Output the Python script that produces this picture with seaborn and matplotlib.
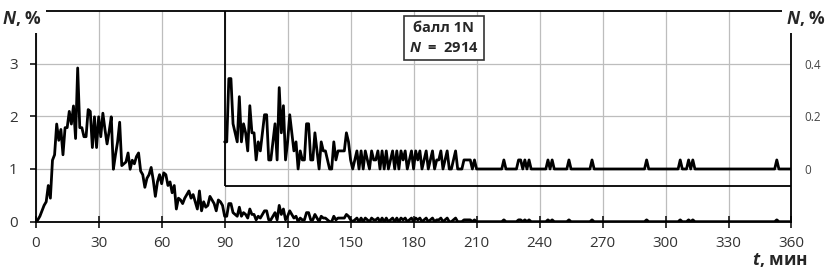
import numpy as np
import pandas as pd
import matplotlib
matplotlib.use("Agg")
import matplotlib.pyplot as plt
import seaborn as sns

# ——————————————
# events per minute (N = 2914 total)
N_total = 2914

events_0_89 = [0, 1, 3, 6, 9, 11, 20, 13, 34, 37,
               54, 45, 51, 37, 52, 52, 61, 54, 64, 46,
               85, 52, 52, 47, 47, 62, 61, 41, 58, 41,
               58, 47, 60, 51, 43, 50, 58, 29, 37, 44,
               55, 31, 32, 33, 38, 29, 34, 32, 36, 38,
               28, 26, 19, 24, 26, 30, 23, 14, 22, 26,
               21, 27, 26, 20, 22, 16, 20, 7, 13, 12,
               10, 13, 15, 17, 13, 15, 11, 7, 17, 6,
               11, 8, 9, 14, 12, 10, 6, 12, 11, 9]

events_90_149 = [3, 3, 10, 10, 5, 4, 3, 8, 3, 5,
                 4, 2, 7, 4, 4, 1, 3, 2, 4, 6,
                 6, 1, 1, 3, 5, 1, 9, 4, 7, 1,
                 3, 6, 4, 2, 3, 0, 2, 1, 1, 5,
                 5, 1, 1, 4, 2, 0, 3, 2, 2, 1,
                 0, 0, 3, 1, 2, 2, 2, 2, 4, 3]

events_150_209 = [1, 0, 1, 2, 0, 2, 0, 2, 1, 0,
                  2, 1, 1, 2, 0, 2, 0, 2, 0, 1,
                  2, 0, 2, 0, 2, 1, 2, 0, 1, 2,
                  0, 2, 1, 2, 0, 1, 2, 0, 1, 2,
                  0, 1, 1, 2, 0, 1, 2, 0, 0, 1,
                  2, 0, 0, 0, 1, 1, 1, 1, 0, 1]

# single events after 210 min
tail_minutes = [223, 230, 231, 233, 235, 244, 246, 254, 265, 291, 307, 311, 313, 353]
tail_events = [1] * len(tail_minutes)

x_ticks = list(range(0, 361, 30))
y_ticks = [0, 1, 2, 3]
inset_ticks = [0, 0.2, 0.4]
inset_tick_labels = ["0", "0.2", "0.4"]

inset_start = 90      # magnified part starts here, min
inset_floor = 0.68    # bottom edge of the magnified frame (left-axis units)

# ——————————————
minutes = np.arange(0, 361)
events = np.zeros(len(minutes), dtype=int)
events[0:90] = events_0_89
events[90:150] = events_90_149
events[150:210] = events_150_209
events[tail_minutes] = tail_events

df = pd.DataFrame({"t": minutes, "N": events / N_total * 100})
inset = df[df["t"] >= inset_start]

font = "Open Sans"
sns.set_style("ticks")
plt.rcParams["font.family"] = [font, "DejaVu Sans"]
plt.rcParams["mathtext.fontset"] = "custom"
plt.rcParams["mathtext.rm"] = font
plt.rcParams["mathtext.it"] = f"{font}:italic"
plt.rcParams["mathtext.bf"] = f"{font}:bold"
plt.rcParams["mathtext.bfit"] = f"{font}:italic:bold"

fig = plt.figure(figsize=(8.28, 2.73), dpi=100)
ax = fig.add_axes([0.0431, 0.188, 0.9128, 0.772])

ax.set_axisbelow(True)
ax.grid(True, color="#bdbdbd", lw=0.9)

sns.lineplot(data=df, x="t", y="N", ax=ax, color="black", lw=2.0, zorder=3)

ax.set_xlim(0, 360)
ax.set_ylim(0, 4)
ax.set_xticks(x_ticks)
ax.set_yticks(y_ticks)
ax.set_xlabel("")
ax.set_ylabel("")
for s in ax.spines.values():
    s.set_visible(True)
    s.set_color("black")
    s.set_linewidth(1.3)
ax.tick_params(axis="x", direction="inout", length=9, width=1.3, pad=6,
               labelsize=11, labelcolor="#333333")
ax.tick_params(axis="y", direction="out", length=4, width=1.3, pad=9,
               labelsize=11, labelcolor="#333333")

# magnified frame
ax.vlines(inset_start, inset_floor, 4, color="black", lw=1.3, zorder=4)
ax.hlines(inset_floor, inset_start, 360, color="black", lw=1.3, zorder=4)

# magnified curve on a right-hand scale
ax2 = ax.twinx()
sns.lineplot(data=inset, x="t", y="N", ax=ax2, color="black", lw=2.0)
ax2.set_ylim(-0.2, 0.6)
ax2.set_yticks(inset_ticks)
ax2.set_yticklabels(inset_tick_labels)
ax2.set_ylabel("")
for s in ax2.spines.values():
    s.set_visible(False)
ax2.tick_params(axis="y", length=0, pad=9, labelsize=8.5, labelcolor="#444444")

# axis labels
bb = dict(facecolor="white", edgecolor="none", pad=3)
fig.text(2 / 828, 1 - 19 / 273, r"$\mathbfit{N}$, %", fontsize=12.5,
         fontweight="bold", ha="left", va="center", bbox=bb)
fig.text(826 / 828, 1 - 19 / 273, r"$\mathbfit{N}$, %", fontsize=12.5,
         fontweight="bold", ha="right", va="center", bbox=bb)
fig.text(808 / 828, 1 - 260 / 273, r"$\mathbfit{t}$, мин", fontsize=12.5,
         fontweight="bold", ha="right", va="center")

ax.text(0.54, 0.872, "балл 1N\n" + r"$\mathbfit{N}$" + f"  =  {N_total}",
        transform=ax.transAxes, ha="center", va="center", fontsize=10.5,
        fontweight="bold", linespacing=1.5, zorder=6,
        bbox=dict(boxstyle="square,pad=0.35", facecolor="white",
                  edgecolor="#333333", lw=1.2))

plt.savefig("out.png", dpi=100)
